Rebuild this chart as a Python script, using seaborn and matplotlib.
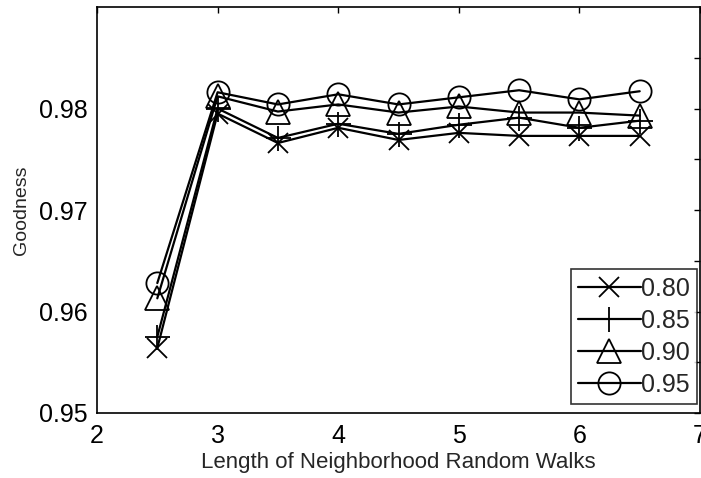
import numpy as np
import pandas as pd
import matplotlib
matplotlib.use("Agg")
import matplotlib.pyplot as plt
import seaborn as sns

# Walk lengths on the x axis
walk_length = [2.5, 3.0, 3.5, 4.0, 4.5, 5.0, 5.5, 6.0, 6.5]

# Goodness for each damping value
good_080 = [0.9564, 0.9795, 0.9766, 0.9781, 0.9769, 0.9776, 0.9773, 0.9773, 0.9773]
good_085 = [0.9575, 0.9800, 0.9771, 0.9785, 0.9775, 0.9784, 0.9791, 0.9781, 0.9788]
good_090 = [0.9613, 0.9812, 0.9797, 0.9804, 0.9796, 0.9802, 0.9796, 0.9796, 0.9793]
good_095 = [0.9628, 0.9816, 0.9804, 0.9814, 0.9804, 0.9811, 0.9818, 0.9809, 0.9817]

series_labels = ["0.80", "0.85", "0.90", "0.95"]
series_markers = ["x", "+", "^", "o"]
series_sizes = [15, 18, 17, 16]

x_ticks = [2, 3, 4, 5, 6, 7]
y_ticks = [0.95, 0.96, 0.97, 0.98]
y_minor = [0.955, 0.965, 0.975, 0.985]

sns.set_theme(style="white")
plt.rcParams["font.family"] = ["Liberation Sans", "DejaVu Sans"]

fig = plt.figure(figsize=(7.01, 4.78), dpi=100)
ax = fig.add_axes([97 / 701, 1 - 413 / 478, (700 - 97) / 701, (413 - 7) / 478])

frames = []
for lab, vals in zip(series_labels, [good_080, good_085, good_090, good_095]):
    frames.append(pd.DataFrame({"length": walk_length, "goodness": vals, "damping": lab}))
df = pd.concat(frames, ignore_index=True)

for lab, mk, ms in zip(series_labels, series_markers, series_sizes):
    sub = df[df["damping"] == lab]
    sns.lineplot(data=sub, x="length", y="goodness", ax=ax, color="black",
                 marker=mk, markersize=ms, markerfacecolor="none",
                 markeredgecolor="black", markeredgewidth=1.3,
                 linewidth=1.6, label=lab)

ax.set_xlim(2, 7)
ax.set_ylim(0.95, 0.99)
ax.set_xticks(x_ticks)
ax.set_xticklabels([str(t) for t in x_ticks])
ax.set_yticks(y_ticks)
ax.set_yticklabels([f"{t:.2f}" for t in y_ticks])
ax.set_yticks(y_minor, minor=True)

ax.tick_params(axis="both", which="both", direction="in", length=4, width=1,
               top=True, right=True, colors="black", labelsize=18)
ax.tick_params(axis="y", which="major", pad=7)
ax.tick_params(axis="x", which="major", pad=8)
ax.tick_params(axis="y", which="minor", labelleft=False)

for sp in ax.spines.values():
    sp.set_color("black")
    sp.set_linewidth(1.2)

ax.set_xlabel("Length of Neighborhood Random Walks", fontsize=16, labelpad=3)
ax.set_ylabel("Goodness", fontsize=14, labelpad=6)

leg = ax.legend(loc="lower right", bbox_to_anchor=(697 / 701, 1 - 404 / 478),
                bbox_transform=fig.transFigure, frameon=True, fancybox=False,
                fontsize=18, handlelength=2.5, handletextpad=0.0,
                labelspacing=0.32, borderpad=0.3, borderaxespad=0)
leg.get_frame().set_edgecolor("black")
leg.get_frame().set_linewidth(1.2)
leg.get_frame().set_facecolor("white")

fig.savefig("out.png", dpi=100, facecolor="white")
